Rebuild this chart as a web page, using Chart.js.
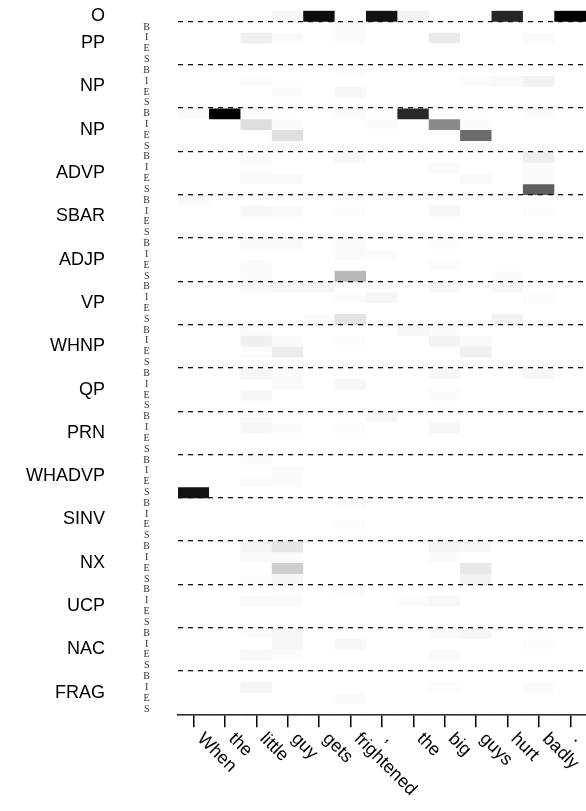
<!DOCTYPE html>
<html><head><meta charset="utf-8">
<script src="https://cdn.jsdelivr.net/npm/chart.js@4.4.1/dist/chart.umd.min.js"></script>
<style>html,body{margin:0;padding:0;background:#fff;}#wrap{width:586px;height:811px;position:relative;}</style>
</head><body><div id="wrap"><canvas id="c"></canvas></div>
<script>
// x categories (tokens)
const words = ['When','the','little','guy','gets','frightened',',','the','big','guys','hurt','badly','.'];
// row group labels (each group has B, I, E, S rows)
const groupLabels = ['PP','NP','NP','ADVP','SBAR','ADJP','VP','WHNP','QP','PRN','WHADVP','SINV','NX','UCP','NAC','FRAG'];
const tagLetters = ['B','I','E','S'];
const z13 = [0,0,0,0,0,0,0,0,0,0,0,0,0];

// values: 0 = white, 1 = black
const O_row = [0,0,0,0.03,0.95,0,0.93,0.05,0,0,0.85,0,1.0];
const PP = [
  [0,0,0,0,0,0.02,0,0,0,0,0,0,0],
  [0,0,0.06,0.02,0,0.02,0,0,0.08,0,0,0.02,0],
  z13, z13];
const NP_a = [
  [0,0,0,0,0,0.012,0,0,0,0,0,0,0],
  [0,0,0.015,0,0,0,0,0,0,0.015,0.025,0.05,0],
  [0,0,0,0.015,0,0.03,0,0,0,0,0,0,0],
  z13];
const NP_b = [
  [0.02,1.0,0.01,0,0,0.015,0,0.84,0,0,0,0.015,0],
  [0,0,0.13,0.015,0,0,0.015,0,0.46,0.015,0,0,0],
  [0,0,0,0.12,0,0,0,0,0,0.58,0,0,0],
  [0,0,0,0.02,0,0,0,0,0,0.02,0,0,0]];
const ADVP = [
  [0,0,0.02,0,0,0.03,0,0,0,0,0,0.07,0],
  [0,0,0.012,0,0,0,0,0,0.015,0,0,0.015,0],
  [0,0,0.02,0.02,0,0,0,0,0,0.02,0,0.015,0],
  [0,0,0,0,0,0,0,0,0,0,0,0.63,0]];
const SBAR = [
  [0.02,0,0,0,0,0,0,0,0,0,0,0,0],
  [0,0,0.03,0.02,0,0.012,0,0,0.03,0,0,0.012,0],
  z13, z13];
const ADJP = [
  [0,0,0.02,0.02,0,0.02,0,0,0.012,0,0,0,0],
  [0,0,0,0,0,0.02,0.015,0,0,0,0,0,0],
  [0,0,0.02,0,0,0,0,0,0.015,0,0,0,0],
  [0,0,0.015,0,0,0.28,0,0,0,0,0.015,0,0]];
const VP = [
  [0,0,0.02,0.03,0.03,0,0,0,0.03,0,0.03,0,0],
  [0,0,0,0,0,0.015,0.04,0,0,0,0,0.012,0],
  z13,
  [0,0,0,0,0.015,0.11,0,0,0,0,0.05,0,0]];
const WHNP = [
  [0,0,0.015,0,0,0,0,0.03,0.015,0,0,0,0],
  [0,0,0.06,0.015,0,0.012,0,0,0.05,0.02,0,0,0],
  [0,0,0.01,0.07,0,0,0,0,0,0.06,0,0,0],
  z13];
const QP = [
  [0,0,0.04,0.02,0,0,0,0,0.03,0,0,0.03,0],
  [0,0,0,0.015,0,0.03,0,0,0,0,0,0,0],
  [0,0,0.03,0,0,0,0,0,0.015,0,0,0,0],
  z13];
const PRN = [
  [0,0,0.012,0,0,0,0.03,0,0,0,0,0,0],
  [0,0,0.03,0.015,0,0.012,0,0,0.03,0,0,0,0],
  z13, z13];
const WHADVP = [
  [0,0,0.015,0,0,0,0,0,0,0,0,0,0],
  [0,0,0,0.015,0,0,0,0,0,0,0,0,0],
  [0,0,0.02,0.015,0,0,0,0,0,0,0,0,0],
  [0.93,0,0,0,0,0,0,0,0,0,0,0,0]];
const SINV = [
  [0,0,0,0,0,0.012,0,0,0,0,0,0,0],
  z13,
  [0,0,0,0,0,0.012,0,0,0,0,0,0,0],
  z13];
const NX = [
  [0,0,0.04,0.10,0,0,0,0,0.04,0.03,0,0,0],
  [0,0,0.02,0.02,0,0,0,0,0.015,0,0,0,0],
  [0,0,0,0.19,0,0,0,0,0,0.09,0,0,0],
  [0,0,0.012,0.04,0,0,0,0,0,0.05,0,0,0]];
const UCP = [
  [0,0,0,0.012,0,0.02,0,0,0,0,0,0,0],
  [0,0,0.02,0.02,0,0,0,0.012,0.03,0,0,0,0],
  z13, z13];
const NAC = [
  [0,0,0.012,0.03,0,0,0,0,0.02,0.03,0,0,0],
  [0,0,0,0.03,0,0.03,0,0,0,0,0,0.012,0],
  [0,0,0.03,0.012,0,0,0,0,0.02,0,0,0,0],
  z13];
const FRAG = [
  z13,
  [0,0,0.04,0,0,0,0,0,0.012,0,0,0.015,0],
  [0,0,0,0,0,0.015,0,0,0,0,0,0,0],
  z13];

const groups = [PP, NP_a, NP_b, ADVP, SBAR, ADJP, VP, WHNP, QP, PRN, WHADVP, SINV, NX, UCP, NAC, FRAG];
const rows = [O_row].concat(...groups);
const N = rows.length;

function gray(v){ const g = Math.round(255*(1-v)); return 'rgb('+g+','+g+','+g+')'; }

const datasets = rows.map((vals, r) => ({
  data: vals.map(() => [r, r+1]),
  backgroundColor: vals.map(gray),
  borderWidth: 0,
  yAxisID: 'y'
}));

const xLabelPlugin = {
  id: 'xlabels',
  afterDraw(chart) {
    const ctx = chart.ctx, xs = chart.scales.x;
    ctx.save();
    ctx.font = '18px "Liberation Sans"';
    ctx.fillStyle = '#000';
    const m = ctx.measureText('lp');
    const a = m.actualBoundingBoxAscent, d = m.actualBoundingBoxDescent;
    const c = Math.SQRT1_2;
    const top = chart.chartArea.bottom + 13 + 3;
    words.forEach((w, i) => {
      const x = xs.getPixelForTick(i);
      ctx.save();
      ctx.translate(x + d*c, top + a*c);
      ctx.rotate(Math.PI/4);
      ctx.textAlign = 'left';
      ctx.textBaseline = 'alphabetic';
      ctx.fillText(w, 0, 0);
      ctx.restore();
    });
    ctx.restore();
  }
};

const groupTickValues = [0.5].concat(groupLabels.map((_, g) => 1 + 4*g + 2));
const groupTickText = ['O'].concat(groupLabels);
const noPadV = s => { s.paddingTop = 0; s.paddingBottom = 0; };

new Chart(document.getElementById('c'), {
  type: 'bar',
  data: { labels: words, datasets },
  plugins: [xLabelPlugin],
  options: {
    animation: false, responsive: true, maintainAspectRatio: false,
    layout: { padding: { top: 10.7, right: 0, left: 0, bottom: 0 } },
    plugins: { legend: { display: false }, tooltip: { enabled: false } },
    datasets: { bar: { barPercentage: 1, categoryPercentage: 1, grouped: false } },
    scales: {
      x: {
        type: 'category', position: 'bottom', offset: true,
        grid: { display: true, drawOnChartArea: false, drawTicks: true, tickLength: 13, offset: false, color: '#000', lineWidth: 1.5 },
        border: { display: true, color: '#000', width: 1.5 },
        ticks: { display: false },
        afterFit: s => { s.height = 811 - 714.3; s.paddingLeft = 0; s.paddingRight = 0; }
      },
      y: {
        type: 'linear', position: 'left', weight: 0, min: 0, max: N, reverse: true,
        afterBuildTicks: s => { s.ticks = rows.slice(1).map((_, i) => ({ value: i + 1.5 })); },
        ticks: { autoSkip: false, crossAlign: 'center', padding: 28, color: '#333',
                 font: { family: 'Liberation Serif', size: 10 },
                 callback: (v, i) => tagLetters[i % 4] },
        grid: { display: false, drawTicks: false }, border: { display: false },
        afterFit: s => { s.width = 62; noPadV(s); }
      },
      yGroup: {
        type: 'linear', position: 'left', weight: 1, min: 0, max: N, reverse: true,
        afterBuildTicks: s => { s.ticks = groupTickValues.map(v => ({ value: v })); },
        ticks: { autoSkip: false, padding: 11, color: '#000',
                 font: { family: 'Liberation Sans', size: 18 },
                 callback: (v, i) => groupTickText[i] },
        grid: { display: false, drawTicks: false }, border: { display: false },
        afterFit: s => { s.width = 116; noPadV(s); }
      },
      yLines: {
        type: 'linear', position: 'right', min: 0, max: N, reverse: true,
        afterBuildTicks: s => { s.ticks = groupLabels.map((_, g) => ({ value: 1 + 4*g })); },
        ticks: { display: false, autoSkip: false },
        grid: { color: '#111', lineWidth: 1.3, drawTicks: false, z: 1 },
        border: { display: false, dash: [5, 5], dashOffset: 0 },
        afterFit: s => { s.width = 0; noPadV(s); }
      }
    }
  }
});
</script></body></html>
